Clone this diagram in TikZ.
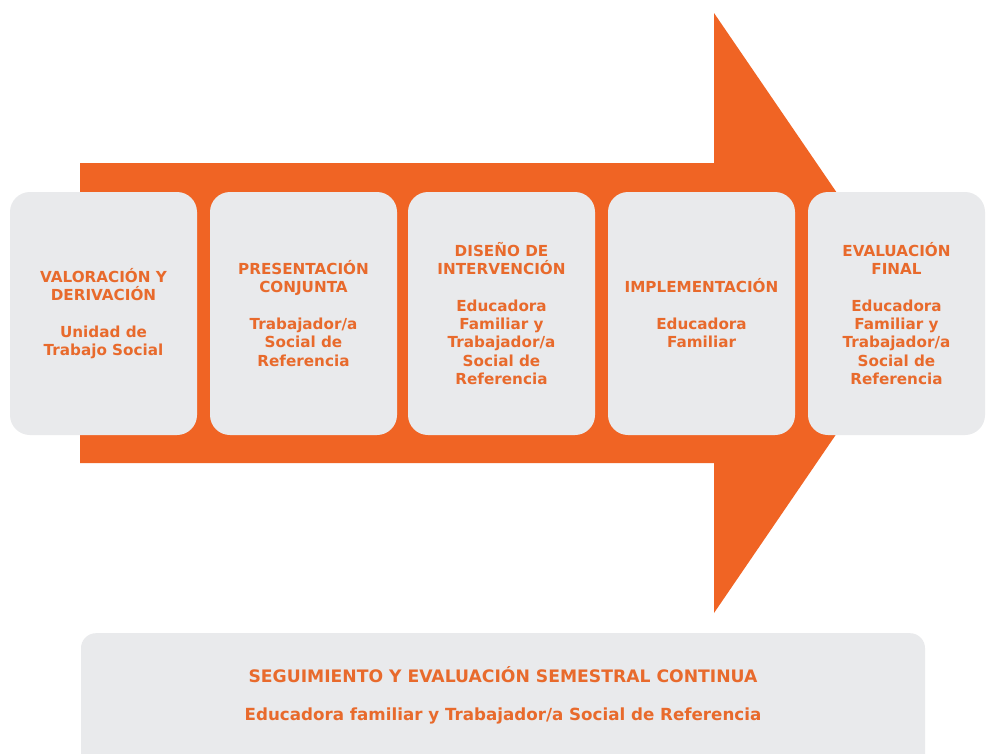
\documentclass[tikz,border=0pt]{standalone}
\usepackage{fontspec}
\setmainfont{DejaVu Sans}
\definecolor{arroworange}{HTML}{F06424}
\definecolor{textorange}{HTML}{E86A2C}
\definecolor{boxgrey}{HTML}{E9EAEC}
\tikzset{
  stage/.style={rectangle, rounded corners=20pt, fill=boxgrey, minimum width=187pt,
    minimum height=243pt, inner sep=0pt, align=center, text=textorange,
    font=\fontsize{15.2}{18.3}\selectfont\bfseries},
  bottombox/.style={rectangle, rounded corners=15pt, fill=boxgrey, minimum width=844pt,
    minimum height=140pt, inner sep=0pt},
  bottomtext/.style={align=center, text=textorange, inner sep=0pt,
    font=\fontsize{17.2}{19}\selectfont\bfseries}
}
\begin{document}
\begin{tikzpicture}[x=1pt,y=-1pt]
\clip (0,0) rectangle (986,753);
\fill[white] (0,0) rectangle (986,753);
\fill[arroworange] (80,163) -- (714,163) -- (714,13) -- (919,313) -- (714,613)
  -- (714,463) -- (80,463) -- cycle;
\node[stage] (s1) at (103.5,313.5) {VALORACIÓN Y\\DERIVACIÓN\\[18.3pt]Unidad de\\Trabajo Social};
\node[stage] (s2) at (303.5,313.5) {PRESENTACIÓN\\CONJUNTA\\[18.3pt]Trabajador/a\\Social de\\Referencia};
\node[stage] (s3) at (501.5,313.5) {DISEÑO DE\\INTERVENCIÓN\\[18.3pt]Educadora\\Familiar y\\Trabajador/a\\Social de\\Referencia};
\node[stage] (s4) at (701.5,313.5) {IMPLEMENTACIÓN\\[18.3pt]Educadora\\Familiar};
\node[stage, minimum width=177pt] (s5) at (896.5,313.5) {EVALUACIÓN\\FINAL\\[18.3pt]Educadora\\Familiar y\\Trabajador/a\\Social de\\Referencia};
\node[bottombox, anchor=north] (bb) at (503,633) {};
\node[bottomtext] (bt) at (503,695) {SEGUIMIENTO Y EVALUACIÓN SEMESTRAL CONTINUA\\[19pt]{\fontsize{16.7}{19}\selectfont Educadora familiar y Trabajador/a Social de Referencia}};
\end{tikzpicture}
\end{document}
